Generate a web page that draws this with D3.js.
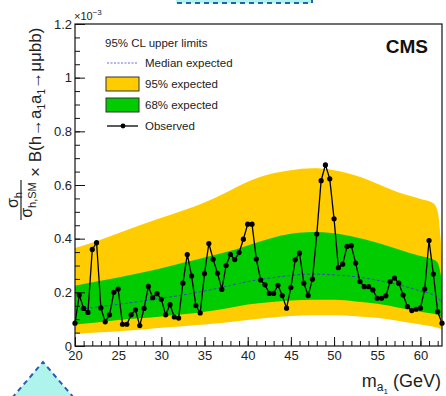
<!DOCTYPE html>
<meta charset="utf-8">
<script src="https://d3js.org/d3.v7.min.js"></script>
<title>95% CL upper limits, h to a1 a1 to mumu bb</title>
<style>
body { margin: 0; background: #fff; }
svg { font-family: "Liberation Sans", Arial, sans-serif; }
</style>
<svg width="446" height="396"></svg>
<script>

// observed limit (x 1e-3), one point per 0.5 GeV
var obsMass = [20, 20.5, 21, 21.5, 22, 22.5, 23, 23.5, 24, 24.5,
  25, 25.5, 26, 26.5, 27, 27.5, 28, 28.5, 29, 29.5,
  30, 30.5, 31, 31.5, 32, 32.5, 33, 33.5, 34, 34.5,
  35, 35.5, 36, 36.5, 37, 37.5, 38, 38.5, 39, 39.5,
  40, 40.5, 41, 41.5, 42, 42.5, 43, 43.5, 44, 44.5,
  45, 45.5, 46, 46.5, 47, 47.5, 48, 48.5, 49, 49.5,
  50, 50.5, 51, 51.5, 52, 52.5, 53, 53.5, 54, 54.5,
  55, 55.5, 56, 56.5, 57, 57.5, 58, 58.5, 59, 59.5,
  60, 60.5, 61, 61.5, 62, 62.5];
var obsLimit = [0.085, 0.19, 0.14, 0.125, 0.36, 0.385, 0.142, 0.09, 0.116, 0.20,
  0.212, 0.081, 0.081, 0.116, 0.135, 0.076, 0.14, 0.222, 0.18, 0.195,
  0.174, 0.116, 0.154, 0.108, 0.104, 0.234, 0.341, 0.261, 0.151, 0.123,
  0.27, 0.382, 0.323, 0.271, 0.211, 0.30, 0.341, 0.322, 0.348, 0.398,
  0.454, 0.454, 0.324, 0.246, 0.228, 0.196, 0.196, 0.226, 0.188, 0.141,
  0.218, 0.321, 0.346, 0.234, 0.188, 0.249, 0.417, 0.616, 0.675, 0.623,
  0.474, 0.292, 0.305, 0.371, 0.374, 0.309, 0.24, 0.221, 0.221, 0.209,
  0.178, 0.178, 0.187, 0.24, 0.253, 0.234, 0.19, 0.147, 0.132, 0.137,
  0.141, 0.212, 0.393, 0.268, 0.128, 0.085];

// expected limits
var expMass   = [20, 22.5, 25, 27.5, 30, 32.5, 35, 37.5, 40, 42.5, 45, 47.5, 50, 52.5, 55, 57.5, 60, 61.5, 62, 62.5];
var expMedian = [0.135, 0.145, 0.155, 0.166, 0.178, 0.19, 0.205, 0.222, 0.24, 0.253, 0.263, 0.268, 0.265, 0.258, 0.245, 0.228, 0.205, 0.19, 0.18, 0.16];
var exp68Lo   = [0.08, 0.088, 0.097, 0.103, 0.11, 0.118, 0.128, 0.14, 0.155, 0.163, 0.17, 0.172, 0.172, 0.166, 0.157, 0.143, 0.128, 0.12, 0.116, 0.105];
var exp68Hi   = [0.225, 0.24, 0.255, 0.272, 0.29, 0.31, 0.33, 0.35, 0.375, 0.40, 0.418, 0.425, 0.42, 0.405, 0.385, 0.36, 0.335, 0.322, 0.31, 0.24];
var exp95Lo   = [0.045, 0.05, 0.055, 0.061, 0.068, 0.074, 0.08, 0.088, 0.097, 0.105, 0.112, 0.115, 0.115, 0.111, 0.105, 0.093, 0.08, 0.072, 0.068, 0.062];
var exp95Hi   = [0.365, 0.39, 0.42, 0.45, 0.478, 0.505, 0.535, 0.572, 0.612, 0.64, 0.655, 0.662, 0.655, 0.635, 0.605, 0.572, 0.548, 0.532, 0.50, 0.33];

var xTicks = [20, 25, 30, 35, 40, 45, 50, 55, 60];
var yTicks = [0, 0.2, 0.4, 0.6, 0.8, 1, 1.2];
var legendTitle = "95% CL upper limits";
var legendLabels = ["Median expected", "95% expected", "68% expected", "Observed"];

var svg = d3.select("svg");
var yellow = "#ffcc00", green = "#00cc00", medianColor = "#3a48c8", txt = "#222";

var x = d3.scaleLinear().domain([20, 62.5]).range([75, 442]);
var y = d3.scaleLinear().domain([0, 1.2]).range([346, 24]);

// leftover bits of the page around the figure
svg.append("rect").attr("x", 176).attr("y", -10).attr("width", 136).attr("height", 13)
    .attr("fill", "#aef3ec").attr("stroke", "#2a5cb0").attr("stroke-width", 2).attr("stroke-dasharray", "5,4");
svg.append("path").attr("d", "M12,398 L43,362 L74,398 Z")
    .attr("fill", "#aef3ec").attr("stroke", "#2a5cb0").attr("stroke-width", 2).attr("stroke-dasharray", "5,4");

svg.append("clipPath").attr("id", "frame")
  .append("rect").attr("x", x.range()[0]).attr("y", y.range()[1])
    .attr("width", x.range()[1] - x.range()[0]).attr("height", y.range()[0] - y.range()[1]);

var exp = expMass.map((m, i) => ({m: m, med: expMedian[i], lo1: exp68Lo[i], hi1: exp68Hi[i], lo2: exp95Lo[i], hi2: exp95Hi[i]}));
var obs = obsMass.map((m, i) => ({m: m, v: obsLimit[i]}));

var plot = svg.append("g").attr("clip-path", "url(#frame)");

plot.append("path").datum(exp)
    .attr("fill", yellow)
    .attr("d", d3.area().curve(d3.curveMonotoneX).x(d => x(d.m)).y0(d => y(d.lo2)).y1(d => y(d.hi2)));
plot.append("path").datum(exp)
    .attr("fill", green)
    .attr("d", d3.area().curve(d3.curveMonotoneX).x(d => x(d.m)).y0(d => y(d.lo1)).y1(d => y(d.hi1)));
plot.append("path").datum(exp)
    .attr("fill", "none").attr("stroke", medianColor).attr("stroke-width", 1)
    .attr("stroke-dasharray", "3,2")
    .attr("d", d3.line().curve(d3.curveMonotoneX).x(d => x(d.m)).y(d => y(d.med)));

svg.append("path").datum(obs)
    .attr("fill", "none").attr("stroke", "#000").attr("stroke-width", 1.3)
    .attr("d", d3.line().x(d => x(d.m)).y(d => y(d.v)));
svg.append("g").selectAll("circle")
  .data(obs)
  .join("circle")
    .attr("cx", d => x(d.m)).attr("cy", d => y(d.v)).attr("r", 2.6)
    .attr("fill", "#000");

// frame
svg.append("rect")
    .attr("x", x.range()[0]).attr("y", y.range()[1])
    .attr("width", x.range()[1] - x.range()[0]).attr("height", y.range()[0] - y.range()[1])
    .attr("fill", "none").attr("stroke", "#111").attr("stroke-width", 1.2);

// axes, ticks inside the frame
var styleAxis = g => {
  g.select(".domain").remove();
  g.selectAll("line").attr("stroke", "#111");
  g.selectAll("text").attr("fill", txt).style("font-size", "13px").style("font-family", "Liberation Sans, Arial, sans-serif");
};

svg.append("g").attr("transform", "translate(" + x.range()[0] + ",0)")
    .call(d3.axisLeft(y).tickValues(y.ticks(24)).tickSize(-5).tickFormat(""))
    .call(styleAxis);
svg.append("g").attr("transform", "translate(" + x.range()[0] + ",0)")
    .call(d3.axisLeft(y).tickValues(yTicks).tickSize(-10).tickPadding(3).tickFormat(d3.format("~g")))
    .call(styleAxis);

svg.append("g").attr("transform", "translate(0," + y.range()[0] + ")")
    .call(d3.axisBottom(x).tickValues(d3.range(20, 63, 1)).tickSize(-5).tickFormat(""))
    .call(styleAxis);
svg.append("g").attr("transform", "translate(0," + y.range()[0] + ")")
    .call(d3.axisBottom(x).tickValues(xTicks).tickSize(-9).tickPadding(5))
    .call(styleAxis);

// exponent
var expo = svg.append("text").attr("x", 74).attr("y", 20).attr("fill", txt).style("font-size", "11px");
expo.append("tspan").text("\u00d710");
expo.append("tspan").attr("dy", -5).style("font-size", "8px").text("\u22123");

// axis titles
var xt = svg.append("text").attr("x", 441).attr("y", 387).attr("text-anchor", "end")
    .attr("fill", txt).style("font-size", "18px");
xt.append("tspan").text("m");
xt.append("tspan").attr("dy", 4).style("font-size", "12px").text("a");
xt.append("tspan").attr("dy", 3).style("font-size", "8px").text("1");
xt.append("tspan").attr("dy", -7).text(" (GeV)");

var yt = svg.append("g").attr("transform", "rotate(-90)").attr("fill", txt);
var num = yt.append("text").attr("x", -200).attr("y", 18).attr("text-anchor", "middle").style("font-size", "16px");
num.append("tspan").text("\u03c3");
num.append("tspan").attr("dy", 4).style("font-size", "11px").text("h");
yt.append("line").attr("x1", -220).attr("x2", -180).attr("y1", 21).attr("y2", 21)
    .attr("stroke", txt).attr("stroke-width", 1.2);
var den = yt.append("text").attr("x", -200).attr("y", 32).attr("text-anchor", "middle").style("font-size", "16px");
den.append("tspan").text("\u03c3");
den.append("tspan").attr("dy", 4).style("font-size", "11px").text("h,SM");
var yl = yt.append("text").attr("x", -177).attr("y", 41).style("font-size", "17px");
yl.append("tspan").text("\u00d7 B(h\u2192a");
yl.append("tspan").attr("dy", 4).style("font-size", "10px").text("1");
yl.append("tspan").attr("dy", -4).text("a");
yl.append("tspan").attr("dy", 4).style("font-size", "10px").text("1");
yl.append("tspan").attr("dy", -4).text("\u2192\u03bc\u03bcbb)");

// CMS label
svg.append("text").attr("x", 428).attr("y", 53).attr("text-anchor", "end")
    .attr("fill", "#111").style("font-size", "19px").style("font-weight", "bold").text("CMS");

// legend
var leg = svg.append("g").attr("fill", txt).style("font-size", "11.5px");
leg.append("text").attr("x", 105).attr("y", 47).text(legendTitle);
var rowY = [63, 84, 105, 126];
leg.append("line").attr("x1", 107).attr("x2", 138).attr("y1", rowY[0]).attr("y2", rowY[0])
    .attr("stroke", "#6a6ae0").attr("stroke-width", 1).attr("stroke-dasharray", "2,1.5");
leg.append("rect").attr("x", 106).attr("y", rowY[1] - 7).attr("width", 33).attr("height", 14)
    .attr("fill", yellow).attr("stroke", "#333").attr("stroke-width", 1);
leg.append("rect").attr("x", 106).attr("y", rowY[2] - 7).attr("width", 33).attr("height", 14)
    .attr("fill", green).attr("stroke", "#333").attr("stroke-width", 1);
leg.append("line").attr("x1", 107).attr("x2", 138).attr("y1", rowY[3]).attr("y2", rowY[3])
    .attr("stroke", "#000").attr("stroke-width", 1.3);
leg.append("circle").attr("cx", 123).attr("cy", rowY[3]).attr("r", 2.4).attr("fill", "#000");
leg.selectAll("text.item")
  .data(legendLabels)
  .join("text")
    .attr("class", "item")
    .attr("x", 145).attr("y", (d, i) => rowY[i] + 4)
    .text(d => d);

</script>
